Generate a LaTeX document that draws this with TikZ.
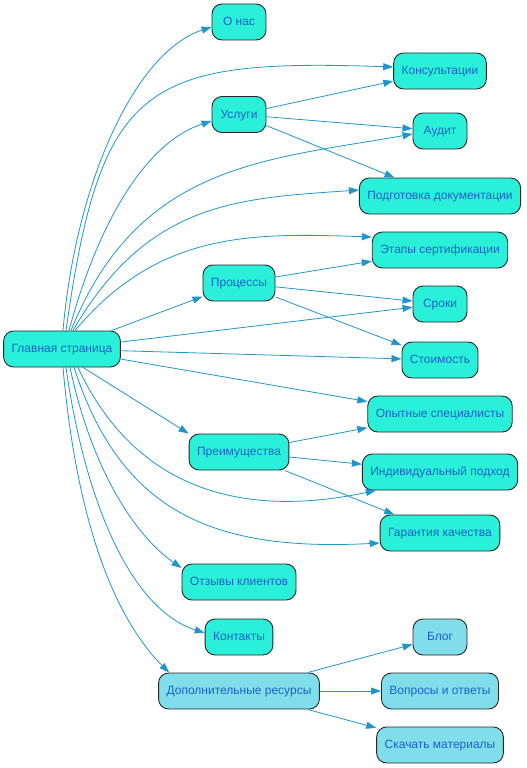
\documentclass[tikz,border=0pt]{standalone}
\usepackage{fontspec}
\setmainfont{Liberation Sans}
\usetikzlibrary{arrows.meta}
\definecolor{boxfill}{HTML}{2AF0DA}
\definecolor{resfill}{HTML}{80DEEA}
\definecolor{boxtext}{HTML}{1A63C8}
\definecolor{edgeblue}{HTML}{1E96CC}
\tikzset{
mybox/.style={
  draw=black!85,
  line width=0.9pt,
  fill=boxfill,
  rounded corners=10pt,
  text=boxtext,
  font=\fontsize{12}{14}\selectfont,
  text height=7.4pt,
  text depth=0pt,
  minimum width=54pt,
  minimum height=36pt,
  inner xsep=8pt,
  inner ysep=0pt
  },
resbox/.style={
  mybox,
  fill=resfill
  }
}

\begin{document}
\begin{tikzpicture}[x=1pt, y=1pt, >={Triangle[length=10pt,width=7pt]}]
\useasboundingbox (0,0) rectangle (527,-768);

\node[mybox] (main) at (62,-349) {Главная страница};

\node[mybox] (onas) at (239,-22) {О нас};
\node[mybox] (uslugi) at (239,-114.5) {Услуги};
\node[mybox] (proc) at (239,-283) {Процессы};
\node[mybox] (preim) at (239,-452) {Преимущества};
\node[mybox] (otzyvy) at (239,-582) {Отзывы клиентов};
\node[mybox] (kontakty) at (239,-637) {Контакты};
\node[resbox] (dop) at (239,-691) {Дополнительные ресурсы};

\node[mybox] (kons) at (440,-71) {Консультации};
\node[mybox] (audit) at (440,-131) {Аудит};
\node[mybox] (podg) at (440,-196) {Подготовка документации};
\node[mybox] (etapy) at (440,-250) {Этапы сертификации};
\node[mybox] (sroki) at (440,-304) {Сроки};
\node[mybox] (stoim) at (440,-360) {Стоимость};
\node[mybox] (opyt) at (440,-414) {Опытные специалисты};
\node[mybox] (indiv) at (440,-472) {Индивидуальный подход};
\node[mybox] (garant) at (440,-533) {Гарантия качества};
\node[resbox] (blog) at (440,-637) {Блог};
\node[resbox] (voprosy) at (440,-691) {Вопросы и ответы};
\node[resbox] (skachat) at (440,-745) {Скачать материалы};

\begin{scope}[draw=edgeblue, line width=0.8pt]
\draw[->]
  ([xshift=1pt]main.north) to[out=85, in=198, out distance=150pt, in distance=80pt] ([yshift=-5pt]onas.west);
\draw[->]
  ([xshift=4pt]main.north) to[out=82, in=178, out distance=250pt, in distance=250pt] ([yshift=4pt]kons.west);
\draw[->]
  ([xshift=7pt]main.north) to[out=75, in=198, out distance=110pt, in distance=70pt] ([yshift=-6.5pt]uslugi.west);
\draw[->]
  ([xshift=9pt]main.north) to[out=68, in=190, out distance=180pt, in distance=150pt] ([yshift=-3pt]audit.west);
\draw[->]
  ([xshift=11pt]main.north) to[out=60, in=184, out distance=150pt, in distance=120pt] ([yshift=6pt]podg.west);
\draw[->]
  ([xshift=13pt]main.north) to[out=50, in=178, out distance=130pt, in distance=120pt] ([yshift=13pt]etapy.west);
\draw[->] (main) -- (proc);
\draw[->] (main) -- (sroki);
\draw[->] (main) -- (stoim);
\draw[->] (main) -- (opyt);
\draw[->] ([xshift=21pt]main.south) -- (preim.north west);
\draw[->]
  ([xshift=16pt]main.south) to[out=-65, in=192, out distance=140pt, in distance=130pt] ([xshift=14pt]indiv.south west);
\draw[->]
  ([xshift=12pt]main.south) to[out=-72, in=183, out distance=150pt, in distance=170pt] ([yshift=-10pt]garant.west);
\draw[->]
  ([xshift=8pt]main.south) to[out=-78, in=145, out distance=100pt, in distance=60pt] ([yshift=14pt]otzyvy.west);
\draw[->]
  ([xshift=4pt]main.south) to[out=-82, in=162, out distance=130pt, in distance=80pt] ([yshift=4pt]kontakty.west);
\draw[->]
  ([xshift=1pt]main.south) to[out=-85, in=135, out distance=150pt, in distance=80pt] ([xshift=11pt]dop.north west);

\draw[->] (uslugi) -- (kons);
\draw[->] (uslugi) -- (audit);
\draw[->] (uslugi) -- (podg);
\draw[->] (proc) -- (etapy);
\draw[->] (proc) -- (sroki);
\draw[->] (proc) -- (stoim);
\draw[->] (preim) -- (opyt);
\draw[->] (preim) -- (indiv);
\draw[->] (preim) -- (garant);
\draw[->] (dop) -- (blog);
\draw[->] (dop) -- (voprosy);
\draw[->] (dop) -- (skachat);
\end{scope}
\end{tikzpicture}
\end{document}
